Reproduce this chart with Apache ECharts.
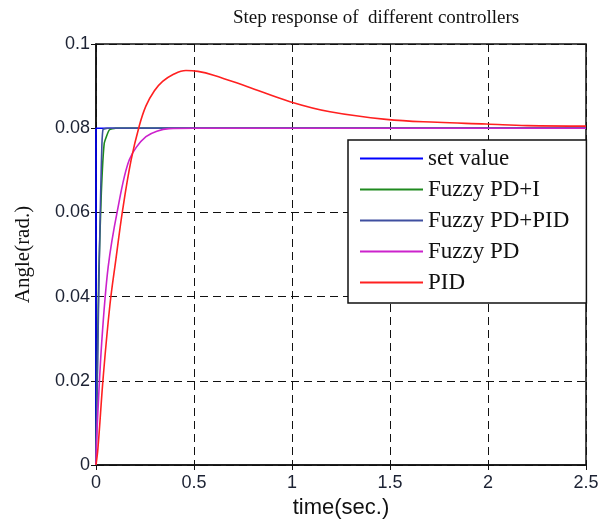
<!DOCTYPE html>
<html>

<head>
  <meta charset="utf-8" />
  <script src="https://cdn.jsdelivr.net/npm/echarts@6/dist/echarts.min.js"></script>
  <style>
    html, body { margin: 0; padding: 0; background: #fff; }
    #chart { width: 610px; height: 526px; }
  </style>
</head>

<body>
  <div id="chart"></div>
  <script type="text/javascript">
    // values
    const xTicks = [0, 0.5, 1, 1.5, 2, 2.5];
    const yTicks = [0, 0.02, 0.04, 0.06, 0.08, 0.1];

    const setT = [0, 0, 2.5];
    const setV = [0, 0.08, 0.08];

    const pdiT = [0, 0.004, 0.014, 0.027, 0.042, 0.068, 0.1, 0.15, 2.5];
    const pdiV = [0, 0.014, 0.045, 0.0645, 0.0764, 0.0796, 0.08, 0.08, 0.08];

    const pdpidT = [0, 0.005, 0.012, 0.017, 0.024, 0.03, 0.036, 0.06, 2.5];
    const pdpidV = [0, 0.015, 0.035, 0.049, 0.065, 0.076, 0.0797, 0.08, 0.08];

    const pdT = [0, 0.005, 0.029, 0.062, 0.11, 0.17, 0.255, 0.372, 0.5, 2.5];
    const pdV = [0, 0.008, 0.029, 0.047, 0.0606, 0.0725, 0.078, 0.0799, 0.08, 0.08];

    const pidT = [0, 0.01, 0.037, 0.071, 0.102, 0.136, 0.179, 0.221, 0.255, 0.298, 0.34, 0.391, 0.459, 0.52, 0.6, 0.77, 0.99, 1.194, 1.48, 1.74, 1.99, 2.2, 2.5];
    const pidV = [0, 0.004, 0.021, 0.038, 0.049, 0.0606, 0.0724, 0.0806, 0.0853, 0.0889, 0.0911, 0.0927, 0.0937, 0.0935, 0.0926, 0.0899, 0.0863, 0.0839, 0.0821, 0.0814, 0.081, 0.0806, 0.0805];

    const names = ["set value", "Fuzzy PD+I", "Fuzzy PD+PID", "Fuzzy PD", "PID"];
    const colors = ["#0000ff", "#1f8a1f", "#3f4fa0", "#cc22cc", "#ff2020"];
    const seriesT = [setT, pdiT, pdpidT, pdT, pidT];
    const seriesV = [setV, pdiV, pdpidV, pdV, pidV];

    const zip = (t, v) => t.map((x, i) => [x, v[i]]);

    const chart = echarts.init(document.getElementById("chart"));

    const gridLine = { show: true, lineStyle: { color: "#111", type: [8, 5], width: 1 } };
    const tickLabel = { color: "#1c2233", fontFamily: "Liberation Sans, Arial", fontSize: 18 };

    var option = {
      animation: false,
      backgroundColor: "#fff",
      title: {
        text: "Step response of  different controllers",
        left: 228,
        top: 4,
        textStyle: { fontFamily: "Liberation Serif, Times New Roman", fontWeight: "normal", fontSize: 19, color: "#111" }
      },
      legend: {
        orient: "vertical",
        left: 348,
        top: 140,
        data: names,
        icon: "rect",
        itemWidth: 63,
        itemHeight: 2,
        itemGap: 8,
        padding: [7, 17, 9, 12],
        backgroundColor: "#fff",
        borderColor: "#111",
        borderWidth: 1.5,
        borderRadius: 0,
        textStyle: { fontFamily: "Liberation Serif, Times New Roman", fontSize: 23, lineHeight: 22, color: "#111" }
      },
      grid: {
        left: 96,
        right: 24,
        top: 44,
        bottom: 61,
        show: true,
        borderColor: "#111",
        borderWidth: 1.5
      },
      xAxis: [
        {
          type: "value",
          min: 0, max: 2.5, interval: 0.5,
          name: "time(sec.)",
          nameLocation: "middle",
          nameGap: 30,
          nameTextStyle: { fontFamily: "Liberation Sans, Arial", fontSize: 22, color: "#111" },
          axisLine: { show: true, onZero: false, lineStyle: { color: "#111", width: 1.5 } },
          axisTick: { inside: true, length: 5, lineStyle: { color: "#111" } },
          axisLabel: Object.assign({ margin: 9, formatter: v => String(v) }, tickLabel),
          splitLine: gridLine
        },
        {
          type: "value", position: "top",
          min: 0, max: 2.5, interval: 0.5,
          axisLine: { show: false },
          axisTick: { inside: true, length: 5, lineStyle: { color: "#111" } },
          axisLabel: { show: false },
          splitLine: { show: false }
        }
      ],
      yAxis: [
        {
          type: "value",
          min: 0, max: 0.1, interval: 0.02,
          name: "Angle(rad.)",
          nameLocation: "middle",
          nameGap: 62,
          nameTextStyle: { fontFamily: "Liberation Serif, Times New Roman", fontSize: 21, color: "#111" },
          axisLine: { show: true, onZero: false, lineStyle: { color: "#111", width: 1.5 } },
          axisTick: { inside: true, length: 5, lineStyle: { color: "#111" } },
          axisLabel: Object.assign({ margin: 6, formatter: v => String(+v.toFixed(2)) }, tickLabel),
          splitLine: gridLine
        },
        {
          type: "value", position: "right",
          min: 0, max: 0.1, interval: 0.02,
          axisLine: { show: false },
          axisTick: { inside: true, length: 5, lineStyle: { color: "#111" } },
          axisLabel: { show: false },
          splitLine: { show: false }
        }
      ],
      series: names.map((n, i) => ({
        name: n,
        type: "line",
        data: zip(seriesT[i], seriesV[i]),
        symbol: "none",
        smooth: i === 4 ? 0.4 : (i === 3 ? 0.3 : 0.15),
        color: colors[i],
        lineStyle: { width: 1.6, color: colors[i] }
      }))
    };

    chart.setOption(option);

    window.onresize = () => {
      chart?.resize();
    };
  </script>
</body>

</html>
